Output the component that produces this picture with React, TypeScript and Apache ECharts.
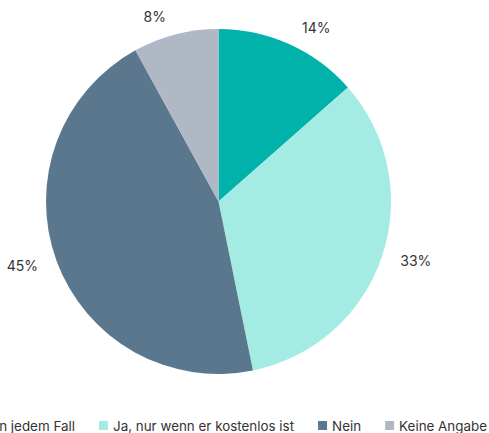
import React, { useEffect, useRef } from "react";
import * as echarts from "echarts";

const categories = ["Ja, in jedem Fall", "Ja, nur wenn er kostenlos ist", "Nein", "Keine Angabe"];
const values = [13.5, 33.3, 45.2, 8.0];
const colors = ["#00b2aa", "#a4ebe4", "#5b778e", "#b0b7c5"];
const labelLineLengths = [18.5, 14, 14.5, 18.5];

export default function App() {
  const ref = useRef<HTMLDivElement>(null);
  useEffect(() => {
    document.body.style.margin = "0";
    const chart = echarts.init(ref.current!, null, { renderer: "svg" });
    chart.setOption({
      animation: false,
      color: colors,
      textStyle: { fontFamily: "Inter" },
      legend: {
        bottom: -4,
        right: -3,
        width: 800,
        itemWidth: 9,
        itemHeight: 9,
        itemGap: 24,
        icon: "rect",
        textStyle: { fontSize: 13.4, color: "#333", fontFamily: "Inter" },
        data: categories,
      },
      series: [
        {
          type: "pie",
          center: [218.5, 201.5],
          radius: 172.5,
          startAngle: 90,
          clockwise: true,
          data: categories.map((c, i) => ({
            name: c,
            value: values[i],
            labelLine: { length: labelLineLengths[i] },
          })),
          label: {
            show: true,
            position: "outside",
            formatter: (p: any) => Math.round(p.value) + "%",
            fontSize: 14,
            color: "#333",
            fontFamily: "Inter",
            overflow: "none",
            width: 60,
          },
          labelLine: { show: false, length: 14, length2: 0 },
          itemStyle: { borderWidth: 0 },
          emphasis: { disabled: true },
        },
      ],
    });
    return () => chart.dispose();
  }, []);
  return <div ref={ref} style={{ width: 489, height: 433 }} />;
}
